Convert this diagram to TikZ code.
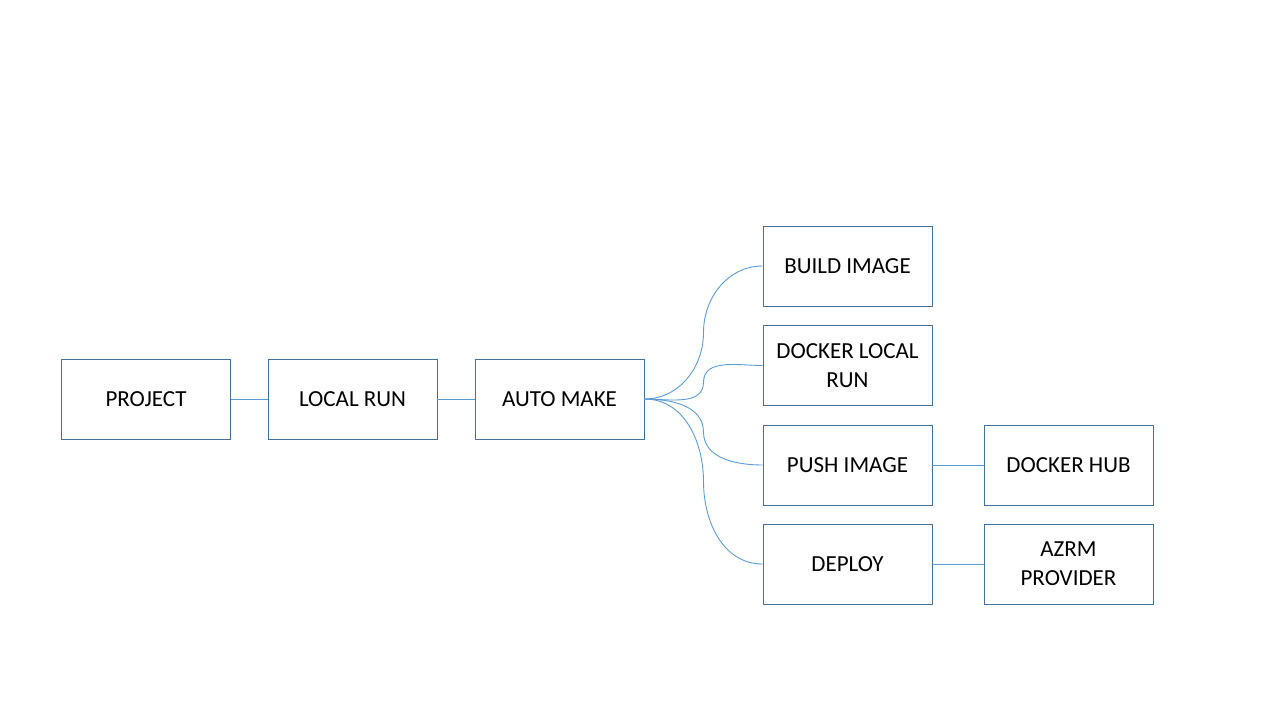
\documentclass[tikz,border=0pt]{standalone}
\usepackage{fontspec}
\setmainfont{Carlito}
\usepackage{xcolor}
\usetikzlibrary{positioning}
\usetikzlibrary{calc}
\definecolor{boxline}{HTML}{41719C}
\definecolor{linkline}{HTML}{5B9BD5}

\begin{document}
\begin{tikzpicture}[x=1pt, y=-1pt,
	every node/.style={draw=boxline, line width=0.9pt, minimum width=169pt, minimum height=80pt, inner sep=0pt, align=center, font=\fontsize{23}{29}\selectfont},
	link/.style={draw=linkline, line width=0.9pt}]
	\useasboundingbox (0,0) rectangle (1280,720);
	\foreach \name/\x/\y/\txt in {project/146/399/PROJECT, localrun/352.5/399/LOCAL RUN, automake/559.5/399/AUTO MAKE,
		build/847.5/266/BUILD IMAGE, dockerlocal/847.5/365.5/DOCKER LOCAL\\RUN, push/847.5/465/PUSH IMAGE,
		deploy/847.5/564/DEPLOY, hub/1068.5/465/DOCKER HUB, azrm/1068.5/564/AZRM\\PROVIDER}
	{
		\node(\name) at (\x,\y){\txt};
	}
	\foreach \a/\b in {project/localrun, localrun/automake, push/hub, deploy/azrm}
	{
		\draw[link] (\a) -- (\b);
	}
	\foreach \child/\inA/\outB in {build/270/90, dockerlocal/270/90, push/90/270, deploy/90/270}
	{
		\draw[link] (automake.east) to[out=0, in=\inA] ($(automake.east)!0.5!(\child.west)$) to[out=\outB, in=180] (\child.west);
	}
\end{tikzpicture}
\end{document}
